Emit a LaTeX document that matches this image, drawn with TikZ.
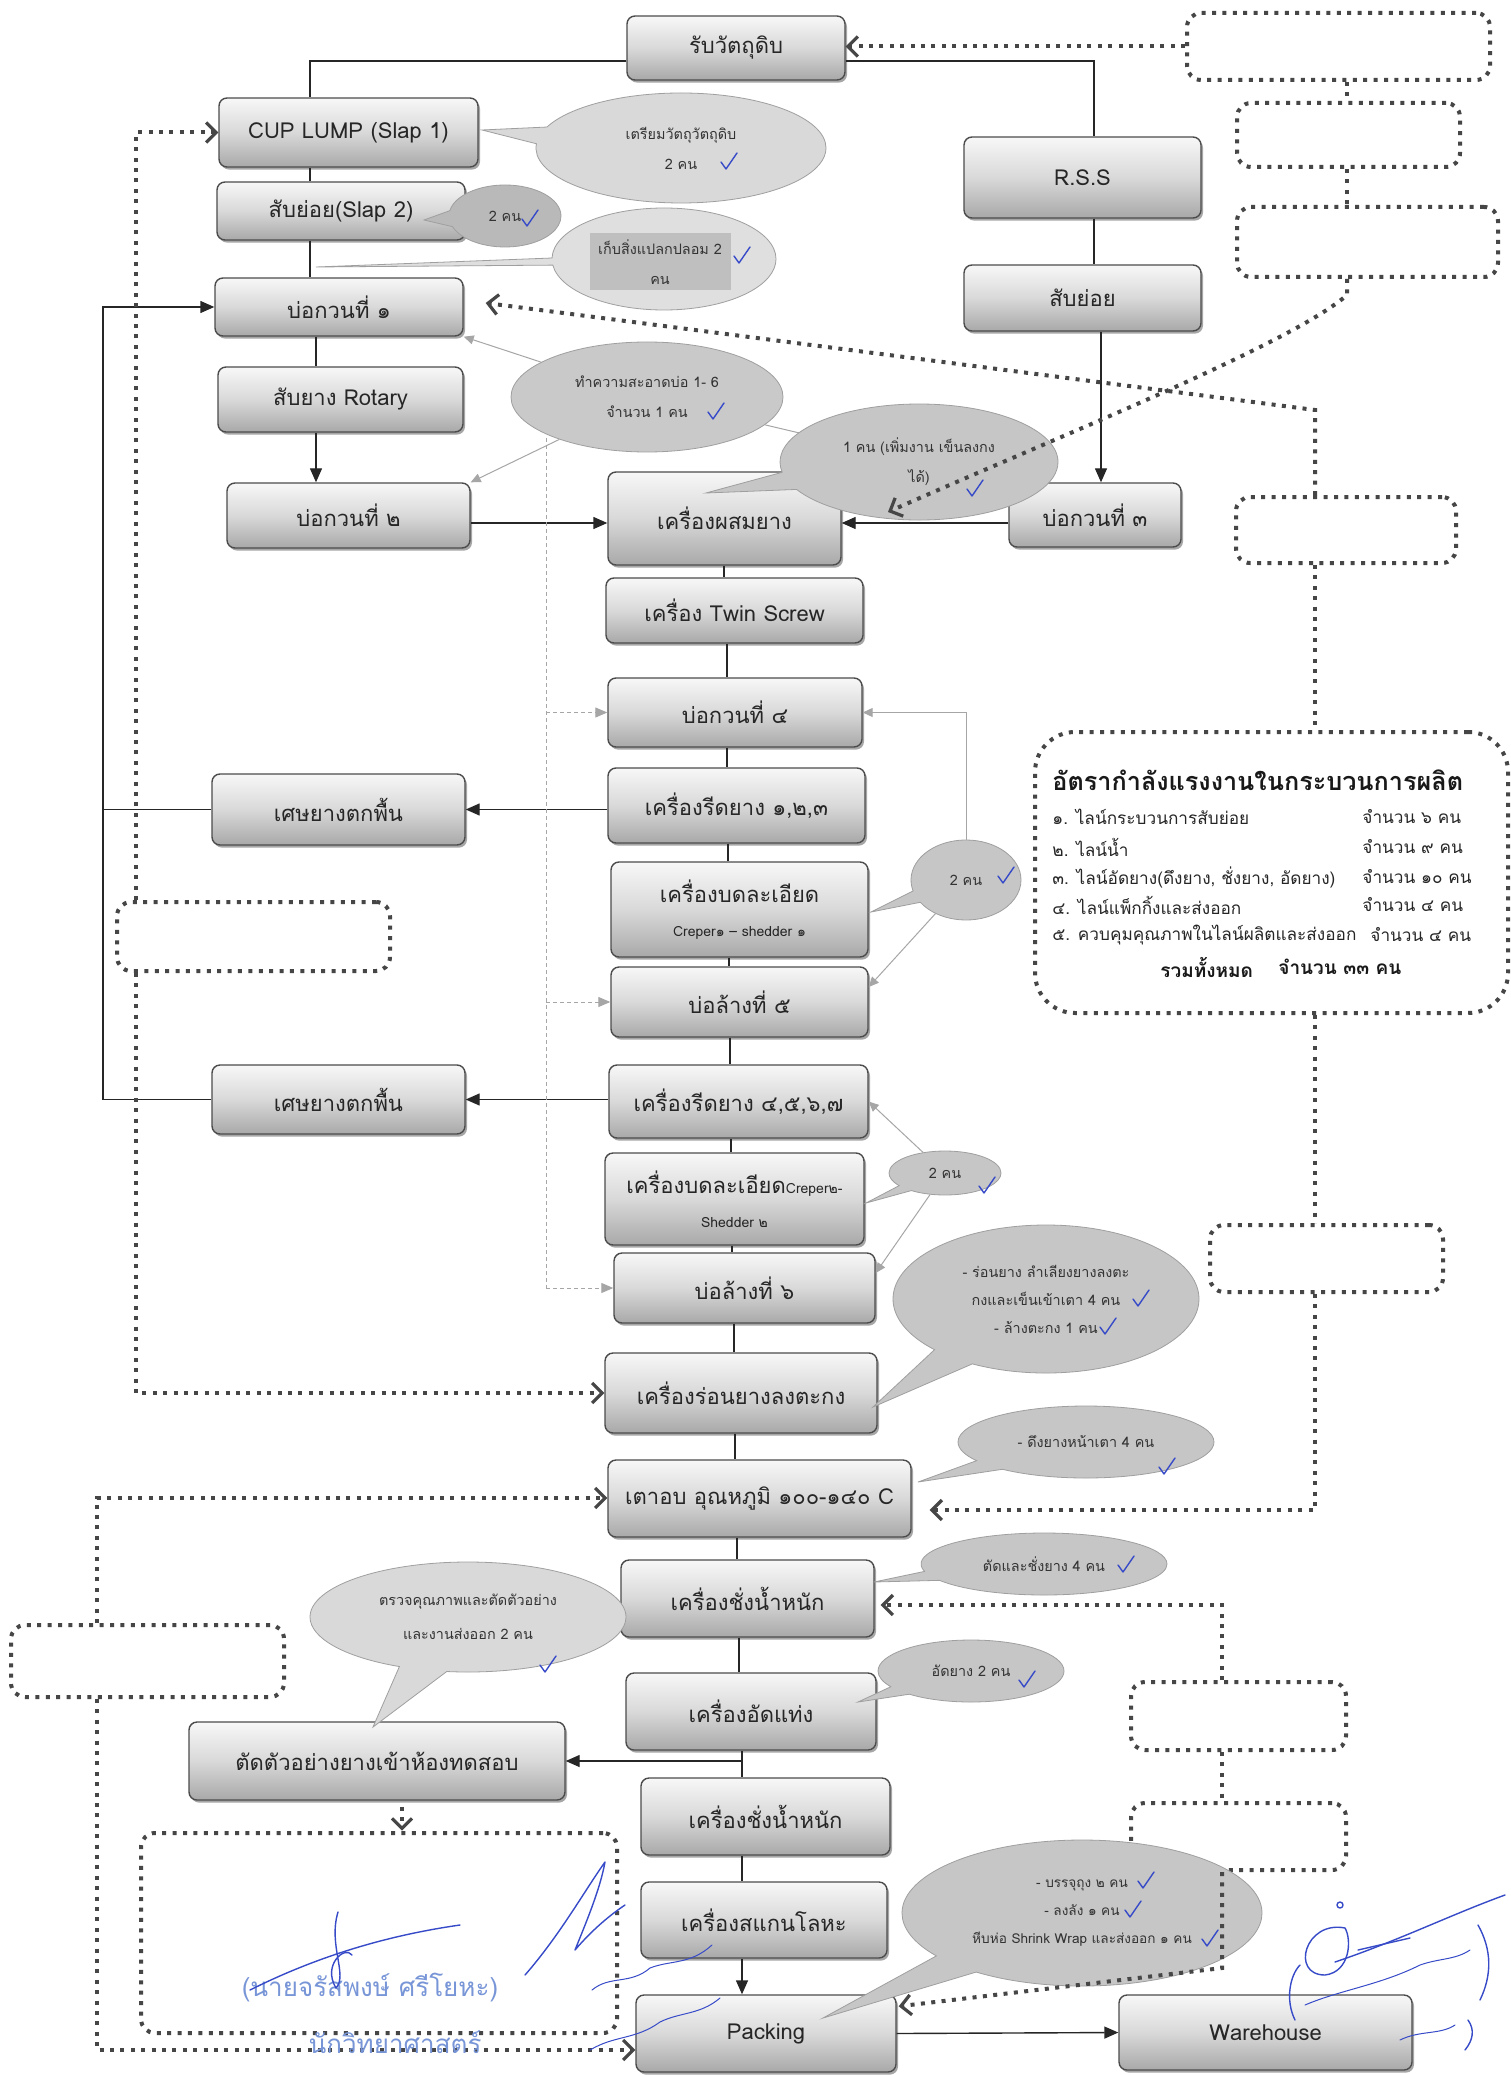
\documentclass[tikz,border=0pt]{standalone}
\usepackage{fontspec}
\setmainfont{Loma}[Script=Thai]
\usetikzlibrary{arrows.meta,shapes.callouts,shapes.geometric,shadows,calc}
\definecolor{inkblue}{RGB}{55,75,200}
\definecolor{stampblue}{RGB}{120,150,215}
\definecolor{dotc}{RGB}{70,70,70}
\newcommand\mkbox[7]{\node[#1, minimum width={(#5-#3)*0.5pt}, minimum height={(#6-#4)*0.5pt}] (#2) at ({(#3+#5)/2},{(#4+#6)/2}) {#7};}
\newcommand\mkcall[7]{\node[#1, minimum width={#5*1pt}, minimum height={#6*1pt}] (#2) at (#3,#4) {#7};}
\begin{document}
\begin{tikzpicture}[x=0.5pt,y=-0.5pt,
  box/.style={draw=black!70, line width=0.7pt, rounded corners=4pt, top color=gray!6, bottom color=gray!68, middle color=gray!30, drop shadow={shadow xshift=1pt, shadow yshift=-1.3pt, opacity=.35, fill=black}, inner sep=1pt, align=center, font=\fontsize{11}{14}\selectfont, text=black!85},
  dotbox/.style={draw=dotc, line width=2pt, dash pattern=on 2pt off 3.2pt, rounded corners=7pt, inner sep=0},
  dotl/.style={draw=dotc, line width=2pt, dash pattern=on 2pt off 3.2pt},
  dotarr/.style={dotl, -{Straight Barb[length=5pt,width=10pt,line width=1.6pt]}},
  ln/.style={draw=black!85, line width=0.7pt},
  sarr/.style={ln, -{Triangle[length=7pt,width=6pt]}},
  garr/.style={draw=gray!70, line width=0.5pt, -{Triangle[length=5pt,width=4.5pt]}},
  gdash/.style={draw=gray!70, line width=0.5pt, dash pattern=on 2pt off 1.5pt},
  gdarr/.style={gdash, -{Triangle[length=6pt,width=5pt]}},
  bub/.style={ellipse callout, draw=gray!75, line width=0.4pt, fill=gray!45, inner sep=0, align=center, font=\fontsize{7.2}{15}\selectfont, text=black!80, callout pointer arc=18},
  tl/.style={anchor=west, font=\fontsize{8.6}{11}\selectfont, inner sep=0, text=black!85},
  tb/.style={anchor=west, font=\bfseries\fontsize{9.5}{11}\selectfont, inner sep=0, text=black!90},
  sig/.style={draw=inkblue, line width=0.7pt, line cap=round, line join=round},
  chk/.pic={\draw[inkblue, line width=0.7pt, line cap=round, line join=round] (-5,-1) -- (0,6) -- (11,-10);}
]
\useasboundingbox[fill=white] (0,0) rectangle (1510,2075);

% ---------- process boxes ----------
\mkbox{box}{raw}{627}{16}{845}{80}{รับวัตถุดิบ}
\mkbox{box}{cup}{219}{98}{478}{167}{CUP LUMP (Slap 1)}
\mkbox{box}{slap2}{217}{182}{465}{240}{สับย่อย(Slap 2)}
\mkbox{box}{p1}{215}{278}{463}{336}{บ่อกวนที่ ๑}
\mkbox{box}{rot}{218}{367}{463}{432}{สับยาง Rotary}
\mkbox{box}{p2}{227}{483}{470}{548}{บ่อกวนที่ ๒}
\mkbox{box}{rss}{964}{137}{1201}{218}{R.S.S}
\mkbox{box}{chop}{964}{265}{1201}{331}{สับย่อย}
\mkbox{box}{p3}{1009}{483}{1181}{547}{บ่อกวนที่ ๓}
\mkbox{box}{mix}{608}{472}{841}{565}{เครื่องผสมยาง}
\mkbox{box}{twin}{606}{578}{863}{643}{เครื่อง Twin Screw}
\mkbox{box}{p4}{608}{678}{862}{747}{บ่อกวนที่ ๔}
\mkbox{box}{roll1}{608}{768}{865}{843}{เครื่องรีดยาง ๑,๒,๓}
\mkbox{box}{crp1}{611}{862}{868}{957}{เครื่องบดละเอียด\\[3pt]{\fontsize{7}{8}\selectfont Creper๑ – shedder ๑}}
\mkbox{box}{w5}{611}{967}{868}{1037}{บ่อล้างที่ ๕}
\mkbox{box}{roll2}{609}{1065}{868}{1138}{เครื่องรีดยาง ๔,๕,๖,๗}
\mkbox{box}{crp2}{605}{1153}{864}{1245}{เครื่องบดละเอียด{\fontsize{7}{8}\selectfont Creper๒-}\\[3pt]{\fontsize{7}{8}\selectfont Shedder ๒}}
\mkbox{box}{w6}{614}{1253}{875}{1323}{บ่อล้างที่ ๖}
\mkbox{box}{sift}{605}{1353}{877}{1433}{เครื่องร่อนยางลงตะกง}
\mkbox{box}{oven}{608}{1460}{911}{1537}{เตาอบ อุณหภูมิ ๑๐๐-๑๔๐ C}
\mkbox{box}{wt1}{621}{1560}{874}{1637}{เครื่องชั่งน้ำหนัก}
\mkbox{box}{press}{626}{1673}{876}{1750}{เครื่องอัดแท่ง}
\mkbox{box}{wt2}{641}{1778}{890}{1855}{เครื่องชั่งน้ำหนัก}
\mkbox{box}{scan}{641}{1882}{887}{1958}{เครื่องสแกนโลหะ}
\mkbox{box}{pack}{636}{1995}{896}{2072}{Packing}
\mkbox{box}{ware}{1119}{1995}{1412}{2070}{Warehouse}
\mkbox{box}{sample}{189}{1722}{565}{1800}{ตัดตัวอย่างยางเข้าห้องทดสอบ}
\mkbox{box}{scrap1}{212}{774}{465}{845}{เศษยางตกพื้น}
\mkbox{box}{scrap2}{212}{1065}{465}{1134}{เศษยางตกพื้น}

% ---------- dotted empty boxes ----------
\mkbox{dotbox}{d1}{1187}{13}{1490}{80}{}
\mkbox{dotbox}{d2}{1237}{103}{1460}{167}{}
\mkbox{dotbox}{d3}{1237}{207}{1498}{277}{}
\mkbox{dotbox}{d4}{1236}{497}{1456}{563}{}
\mkbox{dotbox}{d5}{1210}{1225}{1443}{1292}{}
\mkbox{dotbox}{d6}{1131}{1682}{1346}{1750}{}
\mkbox{dotbox}{d7}{1131}{1803}{1346}{1870}{}
\mkbox{dotbox}{L1}{117}{902}{390}{971}{}
\mkbox{dotbox}{L2}{11}{1625}{284}{1697}{}
\mkbox{dotbox}{L3}{141}{1833}{617}{2033}{}
\mkbox{dotbox, rounded corners=20pt}{T}{1035}{732}{1508}{1013}{}

% ---------- manpower table ----------
\node[anchor=west, font=\bfseries\fontsize{12.6}{15}\selectfont, inner sep=0, text=black!90] (t0) at (1052,780) {อัตรากำลังแรงงานในกระบวนการผลิต};
\node[tl] (t1) at (1052,817) {๑. ไลน์กระบวนการสับย่อย};
\node[tl] (t1r) at (1362,817) {จำนวน ๖ คน};
\node[tl] (t2) at (1052,847) {๒. ไลน์น้ำ};
\node[tl] (t2r) at (1362,847) {จำนวน ๙ คน};
\node[tl] (t3) at (1052,877) {๓. ไลน์อัดยาง(ดึงยาง, ชั่งยาง, อัดยาง)};
\node[tl] (t3r) at (1362,877) {จำนวน ๑๐ คน};
\node[tl] (t4) at (1052,905) {๔. ไลน์แพ็กกิ้งและส่งออก};
\node[tl] (t4r) at (1362,905) {จำนวน ๔ คน};
\node[tl] (t5) at (1052,935) {๕. ควบคุมคุณภาพในไลน์ผลิตและส่งออก};
\node[tl] (t5r) at (1370,935) {จำนวน ๔ คน};
\node[tb] (t6) at (1160,967) {รวมทั้งหมด};
\node[tb] (t6r) at (1278,967) {จำนวน ๓๓ คน};

% ---------- bubbles that carry connectors ----------
\mkcall{bub, ellipse, fill=gray!42}{b4}{647}{397}{136}{55}{ทำความสะอาดบ่อ 1- 6\\จำนวน 1 คน}
\mkcall{bub, callout absolute pointer={(871,912)}}{b6}{966}{880}{55}{40}{2 คน}
\mkcall{bub, callout absolute pointer={(866,1203)}}{b7}{945}{1173}{56}{22}{2 คน}

% ---------- solid connectors ----------
\coordinate (j0) at (310,61);
\coordinate (j1) at (1094,61);
\coordinate (j2) at (316,400);
\coordinate (j3) at (1101,400);
\coordinate (j4) at (540,523);
\draw[ln] (raw.west |- j0) -- (j0) -- (j0 |- cup.north);
\draw[ln] (raw.east |- j1) -- (j1) -- (j1 |- rss.north);
\draw[ln] (cup.south -| j0) -- (j0 |- slap2.north);
\draw[ln] (slap2.south -| j0) -- (j0 |- p1.north);
\draw[ln] (p1.south -| j2) -- (j2 |- rot.north);
\draw[sarr] (rot.south -| j2) -- (j2 |- p2.north);
\draw[ln] (rss.south -| j1) -- (j1 |- chop.north);
\draw[sarr] (chop.south -| j3) -- (j3 |- p3.north);
\draw[sarr] (p2.east |- j4) -- (mix.west |- j4);
\draw[sarr] (p3.west |- j4) -- (mix.east |- j4);
\foreach \a/\b/\x in {mix/twin/724, twin/p4/727, p4/roll1/727, roll1/crp1/728, crp1/w5/729, w5/roll2/730, roll2/crp2/731, crp2/w6/732, w6/sift/734, sift/oven/735, oven/wt1/737, wt1/press/739, press/wt2/742, wt2/scan/742}{
  \coordinate (tx) at (\x,0);
  \draw[ln] (\a.south -| tx) -- (\b.north -| tx);
}
\coordinate (js) at (742,1761);
\draw[sarr] (scan.south -| js) -- (pack.north -| js);
\draw[sarr] (js) -- (js -| sample.east);
\draw[sarr] (pack.east) -- (ware.west);
\coordinate (jl) at (103,700);
\draw[sarr] (roll1.west |- scrap1.east) -- (scrap1.east);
\draw[sarr] (roll2.west |- scrap2.east) -- (scrap2.east);
\draw[ln] (scrap1.west) -- (scrap1.west -| jl);
\draw[sarr] (scrap2.west) -- (scrap2.west -| jl) -- (jl |- p1.west) -- (p1.west);

% ---------- grey helper connectors ----------
\draw[garr] (b4) -- (p1.south east);
\draw[garr] (b4) -- (p2.north east);
\draw[garr] (b4) -- (p3.north west);
\coordinate (dv0) at (546,438);
\coordinate (dv1) at (546,1288);
\draw[gdash] (dv0) -- (dv1);
\draw[gdarr] (dv0 |- p4.west) -- (p4.west);
\draw[gdarr] (dv0 |- w5.west) -- (w5.west);
\draw[gdarr] (dv1) -- (dv1 -| w6.west);
\draw[garr] (b6.north) -- (b6.north |- p4.east) -- (p4.east);
\draw[garr] (b6) -- ($(w5.east)+(0,-15)$);
\draw[garr] (b7) -- (roll2.east);
\draw[garr] (b7) -- ($(w6.east)+(0,-15)$);

% ---------- callout bubbles ----------
\mkcall{bub, fill=gray!30, callout absolute pointer={(482,130)}}{b1}{681}{148}{145}{55}{เตรียมวัตถุวัตถุดิบ\\2 คน}
\mkcall{bub, fill=gray!55, callout absolute pointer={(424,220)}, callout pointer arc=30}{b2}{505}{216}{56}{31}{2 คน}
\mkcall{bub, fill=gray!25, callout absolute pointer={(316,267)}, callout pointer arc=8}{b3}{664}{259}{112}{51}{}
\fill[gray!50] (590,233) rectangle (731,290);
\node[font=\fontsize{7.2}{15}\selectfont, align=center, inner sep=0, text=black!80] (b3t) at (660,262) {เก็บสิ่งแปลกปลอม 2\\คน};
\mkcall{bub, callout absolute pointer={(706,493)}}{b5}{919}{462}{139}{58}{1 คน (เพิ่มงาน เข็นลงกง\\ได้)}
\mkcall{bub, callout absolute pointer={(873,1407)}, font=\fontsize{7.2}{14}\selectfont}{b8}{1046}{1299}{153}{74}{- ร่อนยาง ลำเลียงยางลงตะ\\กงและเข็นเข้าเตา 4 คน\\- ล้างตะกง 1 คน}
\mkcall{bub, callout absolute pointer={(918,1482)}}{b9}{1086}{1442}{128}{36}{- ดึงยางหน้าเตา 4 คน}
\mkcall{bub, callout absolute pointer={(874,1582)}}{b10}{1044}{1564}{123}{31}{ตัดและชั่งยาง 4 คน}
\mkcall{bub, callout absolute pointer={(858,1702)}}{b11}{971}{1671}{93}{31}{อัดยาง 2 คน}
\mkcall{bub, fill=gray!30, callout absolute pointer={(373,1727)}, font=\fontsize{7.2}{17}\selectfont}{b12}{468}{1617}{158}{55}{ตรวจคุณภาพและตัดตัวอย่าง\\และงานส่งออก 2 คน}
\mkcall{bub, callout absolute pointer={(823,2018)}, font=\fontsize{6.8}{14}\selectfont}{b13}{1082}{1913}{180}{73}{- บรรจุถุง ๒ คน\\- ลงลัง ๑ คน\\หีบห่อ Shrink Wrap และส่งออก ๑ คน}

% ---------- dotted connectors ----------
\coordinate (vr) at (1347,150);
\coordinate (mixhit) at (888,512);
\draw[dotarr] (d1.west) -- (d1.west -| raw.east);
\draw[dotl] (vr |- d1.south) -- (vr |- d2.north);
\draw[dotl] (vr |- d2.south) -- (vr |- d3.north);
\draw[dotarr] (vr |- d3.south) -- ++(0,16) .. controls (1290,345) and (1050,440) .. (mixhit);
\coordinate (k1) at (1315,410);
\coordinate (p1hit) at ($(p1.east)+(22,-4)$);
\draw[dotarr] (k1 |- d4.north) -- (k1) -- (p1hit);
\draw[dotl] (k1 |- d4.south) -- (k1 |- T.north);
\draw[dotl] (k1 |- T.south) -- (k1 |- d5.north);
\coordinate (k2) at (1315,1510);
\coordinate (ovenhit) at ($(oven.east |- k2)+(18,0)$);
\draw[dotarr] (k1 |- d5.south) -- (k2) -- (ovenhit);
\coordinate (k3) at (1222,1605);
\coordinate (wthit) at ($(wt1.east |- k3)+(6,0)$);
\draw[dotarr] (k3 |- d6.north) -- (k3) -- (wthit);
\draw[dotl] (k3 |- d6.south) -- (k3 |- d7.north);
\coordinate (k4) at (1222,1968);
\coordinate (packhit) at ($(pack.north east)+(2,12)$);
\draw[dotarr] (k3 |- d7.south) -- (k4) -- (packhit);
\coordinate (k5) at (136,132);
\coordinate (k6) at (136,1393);
\draw[dotarr] (k5 |- L1.north) -- (k5 |- cup.west) -- (cup.west);
\draw[dotarr] (k5 |- L1.south) -- (k6) -- (k6 -| sift.west);
\coordinate (k7) at (97,1498);
\coordinate (k8) at (97,2050);
\draw[dotarr] (k7 |- L2.north) -- (k7) -- (k7 -| oven.west);
\draw[dotarr] (k7 |- L2.south) -- (k8) -- (k8 -| pack.west);
\coordinate (s0) at ($(sample.south)+(25,6)$);
\coordinate (s1) at ($(sample.south)+(25,30)$);
\draw[dotarr] (s0) -- (s1);

% ---------- hand-made ticks ----------
\foreach \p in {(726,163),(527,220),(739,257),(713,413),(972,490),(1003,877),(984,1187),(1138,1300),(1105,1328),(1164,1468),(1123,1566),(1024,1681),(545,1666),(1143,1882),(1130,1911),(1207,1940)}
  \pic at \p {chk};

% ---------- signatures and stamp ----------
\node[text=stampblue, font=\fontsize{13}{15}\selectfont, inner sep=0] (sg1) at (370,1988) {(นายจรัสพงษ์ ศรีโยหะ)};
\node[text=stampblue, font=\fontsize{13}{15}\selectfont, inner sep=0] (sg2) at (395,2042) {นักวิทยาศาสตร์};
\draw[sig] (250,1990) .. controls (320,1955) and (390,1935) .. (460,1925);
\draw[sig] (338,1912) .. controls (328,1945) and (348,1975) .. (336,1988) .. controls (322,1965) and (345,1945) .. (352,1955);
\draw[sig] (525,1975) .. controls (560,1935) and (585,1890) .. (605,1862) .. controls (600,1890) and (585,1925) .. (575,1950) .. controls (592,1930) and (610,1915) .. (625,1905);
\draw[sig, line width=0.5pt] (592,1990) .. controls (610,1975) and (630,1985) .. (650,1968) .. controls (670,1960) and (690,1965) .. (712,1945);
\draw[sig, line width=0.5pt] (590,2050) .. controls (615,2035) and (635,2040) .. (660,2022) .. controls (680,2012) and (700,2015) .. (720,1998);
\draw[sig] (1340,1905) circle[radius=3];
\draw[sig] (1345,1928) .. controls (1305,1920) and (1290,1975) .. (1325,1975) .. controls (1350,1972) and (1352,1940) .. (1345,1928);
\draw[sig] (1335,1962) .. controls (1400,1940) and (1450,1915) .. (1505,1895);
\draw[sig] (1358,1950) -- (1410,1938);
\draw[sig] (1295,2020) .. controls (1285,2000) and (1290,1975) .. (1300,1965);
\draw[sig, line width=0.5pt] (1305,2005) .. controls (1340,1990) and (1380,1985) .. (1420,1965) .. controls (1440,1958) and (1455,1960) .. (1470,1950);
\draw[sig] (1478,1925) .. controls (1492,1950) and (1492,1975) .. (1480,2000);
\draw[sig, line width=0.5pt] (1400,2040) .. controls (1420,2030) and (1440,2035) .. (1455,2025);
\draw[sig] (1468,2020) .. controls (1475,2030) and (1473,2040) .. (1465,2050);
\end{tikzpicture}
\end{document}
